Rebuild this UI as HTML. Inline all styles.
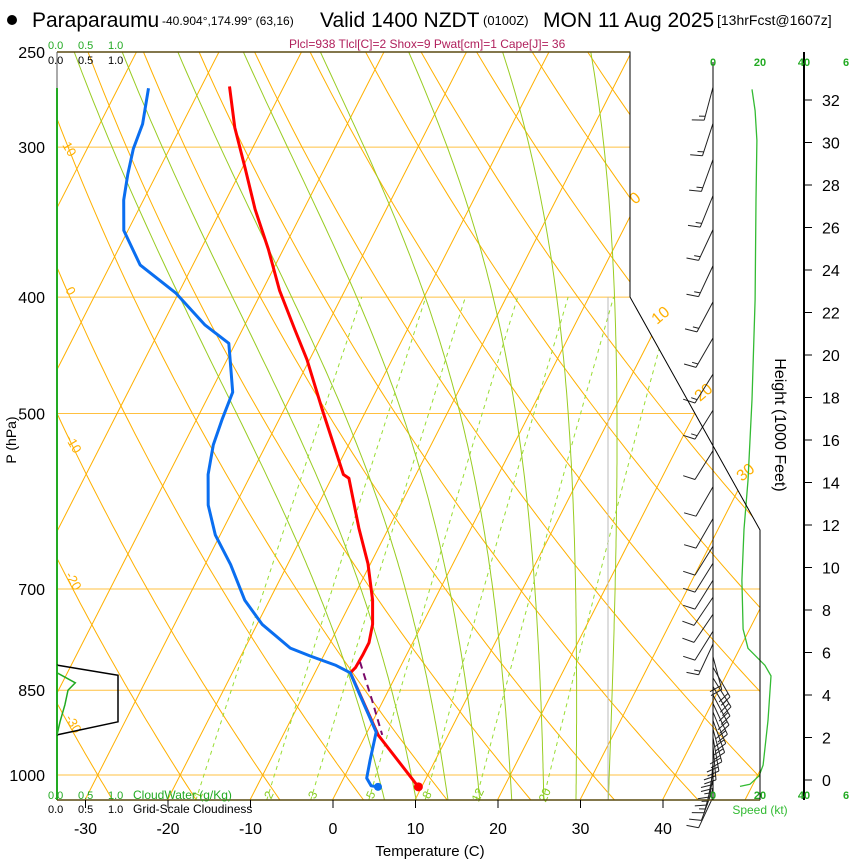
<!DOCTYPE html>
<html><head><meta charset="utf-8">
<style>
html,body{margin:0;padding:0;background:#fff;}
svg{display:block;font-family:"Liberation Sans",Arial,sans-serif;}
</style></head>
<body>
<svg id="chart" width="850" height="860" viewBox="0 0 850 860" xmlns="http://www.w3.org/2000/svg">
<defs>
<clipPath id="mainClip"><polygon points="57,52 630,52 630,297 760,530 760,800 57,800"/></clipPath>
</defs>
<rect width="850" height="860" fill="#fff"/>
<g id="title">
<circle cx="12" cy="20" r="5" fill="#000"/>
<text x="32" y="27" font-size="21">Paraparaumu</text>
<text x="162" y="25" font-size="12">-40.904°,174.99° (63,16)</text>
<text x="320" y="27" font-size="21">Valid 1400 NZDT</text>
<text x="483" y="25" font-size="13">(0100Z)</text>
<text x="543" y="27" font-size="21">MON 11 Aug 2025</text>
<text x="717" y="25" font-size="14">[13hrFcst@1607z]</text>
</g>
<text x="289" y="48" font-size="12" fill="#b0205c">Plcl=938 Tlcl[C]=2 Shox=9 Pwat[cm]=1 Cape[J]= 36</text>
<g id="grid" clip-path="url(#mainClip)"></g>
<g id="plot"></g>
<g id="frame"></g>
<g id="labels" font-size="15"></g>
</svg>
<script>
// ---- data ----
const pLevels = [250,300,400,500,700,850,1000];
const tTicks = [-30,-20,-10,0,10,20,30,40];
const hTicks = [0,2,4,6,8,10,12,14,16,18,20,22,24,26,28,30,32];
const thetaLines = [-40,-30,-20,-10,0,10,20,30,40,50,60,70,80,90,100,110];
const isoLines = [-120,-110,-100,-90,-80,-70,-60,-50,-40,-30,-20,-10,0,10,20,30,40,50];
const moistLines = [4,8,12,16,20,24,28,32];
const mixLines = [1,2,3,5,8,12,20];
const tempP = [1023,926,822,814,795,776,749,715,694,667,623,566,562,497,451,426,395,365,338,312,289,267];
const tempT = [9.6,1.5,-5.7,-5.4,-5.3,-5.3,-6.0,-7.5,-8.7,-10.3,-13.6,-17.9,-18.8,-25.3,-30.3,-33.6,-37.9,-41.8,-45.9,-49.7,-53.4,-56.6];
const dewP = [1021,1006,972,921,866,822,810,796,784,749,715,668,631,596,562,531,506,480,455,437,422,397,376,352,332,316,301,287,268];
const dewT = [3.8,2.8,2.1,1.1,-2.6,-5.7,-8.0,-11.6,-14.5,-19.4,-23.0,-26.9,-30.6,-33.3,-35.2,-36.4,-36.9,-37.3,-39.3,-40.8,-44.8,-50.3,-56.4,-60.5,-62.4,-63.5,-64.4,-64.8,-66.3];
const sfcP = 1023, sfcT = 9.6, sfcTd = 4.7;
const parcelP = [805,866,926];
const parcelT = [-5.2,-1.4,2.0];
const spdH = [32.5,31.5,30.1,27.3,22.6,17.9,14.1,11.8,9.4,7.1,6.2,5.4,4.9,2.8,0.7,0.2,-0.2,-0.3];
const spdV = [16.6,17.9,18.7,18.3,17.9,16.6,14.9,13.2,12.3,12.8,14.9,22.1,24.7,23.4,21.3,19.6,15.7,11.5];
const barbH = [32.6,30.9,29.2,27.5,25.9,24.2,22.5,20.8,19.1,17.4,15.5,13.8,12.3,11.0,10.2,9.4,8.6,7.8,7.0,6.4,5.8,5.3,4.8,4.4,4.0,3.6,3.2,2.8,2.4,2.0,1.6,1.2,0.8,0.4,0.0,-0.4,-0.8];
const barbDir = [195,198,200,202,205,205,208,210,212,212,212,210,210,212,212,212,214,214,212,205,165,150,148,150,152,155,158,160,165,170,175,180,185,190,195,200,205];
const barbSpd = [17,18,18,18,18,18,17,17,16,15,14,14,13,12,12,12,13,13,13,15,20,23,25,24,23,23,22,22,21,21,20,20,19,18,16,14,12];
const cloudP = [810,826,903,926];
const cloudFrac = [0,1.0,1.0,0];
const cwP = [810,822,838,850,874,903,926];
const cwV = [0,0,0.3,0.18,0.13,0.05,0];

// ---- axes functions ----
const NS = "http://www.w3.org/2000/svg";
const yP = p => 775 + 521.5*Math.log(p/1000);
const xT = (T,p) => 333 + 8.25*T + 0.51*(799 - yP(p));
const yH = h => 780 - 21.25*h;
const xS = s => 713 + 2.35*s;
const xC = v => 57 + 61*v;
function mk(tag, attrs, parent){const e=document.createElementNS(NS,tag);for(const k in attrs)e.setAttribute(k,attrs[k]);parent.appendChild(e);return e;}
const grid=document.getElementById('grid'), plot=document.getElementById('plot'), frame=document.getElementById('frame'), labels=document.getElementById('labels');
function pathFrom(pts){return pts.map((q,i)=>(i?'L':'M')+q[0].toFixed(1)+','+q[1].toFixed(1)).join(' ');}

pLevels.forEach(p=>{
  const l=mk('line',{x1:57,x2:760,y1:yP(p),y2:yP(p),stroke:'#ffc040','stroke-width':1},grid);
  
  
});
isoLines.forEach(T=>{
  const l=mk('line',{x1:xT(T,1060),y1:yP(1060),x2:xT(T,240),y2:yP(240),stroke:'#ffb000','stroke-width':1},grid);
  
  
});
thetaLines.forEach(th=>{
  const pts=[];for(let p=1060;p>=240;p-=10){pts.push([xT((th+273.15)*Math.pow(p/1000,0.2857)-273.15,p),yP(p)]);}
  const l=mk('path',{d:pathFrom(pts),fill:'none',stroke:'#ffb000','stroke-width':1},grid);
  
  
});
function es(Tc){return 6.112*Math.exp(17.67*Tc/(Tc+243.5));}
function moist(tw){
  const res=[];
  const step=(Tk,p,dl)=>{const e=es(Tk-273.15);const rs=0.622*e/(p-e);const dT=(287*Tk+2.5e6*rs)/(1004+2.5e6*2.5e6*rs*0.622/(287*Tk*Tk));return Tk+dT*dl;};
  let Tk=tw+273.15,p=1000;
  const down=[];while(p<1060){const np=p+5;Tk=step(Tk,p,Math.log(np/p));p=np;down.push([xT(Tk-273.15,p),yP(p)]);}
  Tk=tw+273.15;p=1000;res.push([xT(tw,1000),yP(1000)]);
  while(p>240){const np=p-5;Tk=step(Tk,p,Math.log(np/p));p=np;res.push([xT(Tk-273.15,p),yP(p)]);}
  return down.reverse().concat(res);
}
moistLines.forEach(tw=>{
  const l=mk('path',{d:pathFrom(moist(tw)),fill:'none',stroke:'#99cc22','stroke-width':1},grid);
  
  
});
function tdFromW(w,p){const e=w*p/(622+w);const L=Math.log(e/6.112);return 243.5*L/(17.67-L);}
mixLines.forEach(w=>{
  const pts=[];for(let p=1050;p>=400;p-=10)pts.push([xT(tdFromW(w,p),p),yP(p)]);
  const l=mk('path',{d:pathFrom(pts),fill:'none',stroke:'#99dd33','stroke-width':1,'stroke-dasharray':'4,4'},grid);
  
  
  const t=mk('text',{x:xT(tdFromW(w,1035),1035),y:yP(1035)+6,'font-size':12,fill:'#88cc22','text-anchor':'middle',transform:`rotate(-65 ${xT(tdFromW(w,1035),1035)} ${yP(1035)+2})`},plot);
  t.textContent=w;
  
  
});
mk('line',{x1:608,y1:297,x2:608,y2:800,stroke:'#bbbbbb','stroke-width':1},grid);

[[10,62,145],[0,65,290],[-10,65,438],[-20,65,575],[-30,65,718]].forEach(a=>{
  const t=mk('text',{x:a[1],y:a[2],'font-size':13,fill:'#ffb000',transform:`rotate(60 ${a[1]} ${a[2]})`},plot);
  t.textContent=a[0];
  
  
});
[[0,635,205],[10,657,325],[20,700,402],[30,742,482]].forEach(a=>{
  const t=mk('text',{x:a[1],y:a[2],'font-size':16,fill:'#ffb000',transform:`rotate(-40 ${a[1]} ${a[2]})`},plot);
  t.textContent=a[0];
  
  
});

mk('line',{x1:57,y1:88,x2:57,y2:800,stroke:'#22aa22','stroke-width':2},plot);
const cloudPts=cloudP.map((p,i)=>[xC(cloudFrac[i]),yP(p)]);
const cl=mk('path',{d:pathFrom(cloudPts),fill:'none',stroke:'#000','stroke-width':1.5},plot);


const cw=mk('path',{d:pathFrom(cwP.map((p,i)=>[xC(cwV[i]),yP(p)])),fill:'none',stroke:'#22aa22','stroke-width':1.5},plot);



const tl=mk('path',{d:pathFrom(tempP.map((p,i)=>[xT(tempT[i],p),yP(p)])),fill:'none',stroke:'#ff0000','stroke-width':3,'stroke-linejoin':'round'},plot);


const pl=mk('path',{d:pathFrom(parcelP.map((p,i)=>[xT(parcelT[i],p),yP(p)])),fill:'none',stroke:'#7a0a6a','stroke-width':2,'stroke-dasharray':'7,5'},plot);


const dewPts=[[xT(sfcTd,sfcP),yP(sfcP)]].concat(dewP.map((p,i)=>[xT(dewT[i],p),yP(p)]));
const dl=mk('path',{d:pathFrom(dewPts),fill:'none',stroke:'#0a6ef0','stroke-width':3,'stroke-linejoin':'round'},plot);


const d1=mk('circle',{cx:xT(sfcTd,sfcP),cy:yP(sfcP),r:4,fill:'#0a6ef0'},plot);


const d2=mk('circle',{cx:xT(sfcT,sfcP),cy:yP(sfcP),r:4.5,fill:'#ff0000'},plot);



const sp=mk('path',{d:pathFrom(spdH.map((h,i)=>[xS(spdV[i]),yH(h)])),fill:'none',stroke:'#33bb33','stroke-width':1.3},plot);



barbH.forEach((h,i)=>{
  const x0=713,y0=yH(h),a=barbDir[i]*Math.PI/180,L=34;
  const dx=Math.sin(a),dy=-Math.cos(a);
  const x1=x0+dx*L,y1=y0+dy*L;
  let d=`M${x0},${y0} L${x1.toFixed(1)},${y1.toFixed(1)}`;
  const px=-dy,py=dx;
  let s=barbSpd[i],pos=0;
  const full=Math.floor(s/10),half=(s%10)>=5?1:0;
  for(let k=0;k<full;k++){const bx=x1-dx*pos,by=y1-dy*pos;d+=` M${bx.toFixed(1)},${by.toFixed(1)} l${(px*12+dx*3).toFixed(1)},${(py*12+dy*3).toFixed(1)}`;pos+=4;}
  if(half){if(!full)pos=4;const bx=x1-dx*pos,by=y1-dy*pos;d+=` M${bx.toFixed(1)},${by.toFixed(1)} l${(px*6+dx*1.5).toFixed(1)},${(py*6+dy*1.5).toFixed(1)}`;}
  const b=mk('path',{d:d,fill:'none',stroke:'#222','stroke-width':1},plot);
  
  
});

mk('polyline',{points:'57,52 630,52 630,297 760,530 760,800',fill:'none',stroke:'#000','stroke-width':1},frame);
mk('line',{x1:57,y1:52,x2:630,y2:52,stroke:'#5a4a10','stroke-width':1.5},frame);
mk('line',{x1:57,y1:800,x2:760,y2:800,stroke:'#5a4a10','stroke-width':1.5},frame);
mk('line',{x1:57,y1:52,x2:57,y2:88,stroke:'#555','stroke-width':1},frame);
mk('line',{x1:713,y1:62,x2:713,y2:800,stroke:'#000','stroke-width':1},frame);
mk('line',{x1:804,y1:52,x2:804,y2:800,stroke:'#000','stroke-width':2},frame);

pLevels.forEach(p=>{
  const t=mk('text',{x:45,y:yP(p)+6,'text-anchor':'end','font-size':16},labels);
  t.textContent=p;
  
  
});
tTicks.forEach(T=>{
  const x=333+8.25*T;
  mk('line',{x1:x,y1:800,x2:x,y2:808,stroke:'#000'},labels);
  const t=mk('text',{x:x,y:834,'text-anchor':'middle','font-size':16},labels);
  t.textContent=T;
  
  
});
hTicks.forEach(h=>{
  mk('line',{x1:804,y1:yH(h),x2:812,y2:yH(h),stroke:'#000'},labels);
  const t=mk('text',{x:822,y:yH(h)+6,'font-size':16},labels);
  t.textContent=h;
  
  
});
</script>
<script>
(function(){
const svg=document.getElementById('chart');
const NS="http://www.w3.org/2000/svg";
const items=[
 ['p-axis-title','P (hPa)',16,440,14,'#000',-90,'middle'],
 ['x-axis-title','Temperature (C)',430,856,15,'#000',0,'middle'],
 ['height-axis-title','Height (1000 Feet)',775,425,16,'#000',90,'middle'],
 ['cloud-scale-top-0','0.0',48,49,11,'#22aa22',0,'start'],
 ['cloud-scale-top-05','0.5',78,49,11,'#22aa22',0,'start'],
 ['cloud-scale-top-1','1.0',108,49,11,'#22aa22',0,'start'],
 ['cloud-scale-top-0b','0.0',48,64,11,'#000',0,'start'],
 ['cloud-scale-top-05b','0.5',78,64,11,'#000',0,'start'],
 ['cloud-scale-top-1b','1.0',108,64,11,'#000',0,'start'],
 ['cloud-scale-bot-0','0.0',48,799,11,'#22aa22',0,'start'],
 ['cloud-scale-bot-05','0.5',78,799,11,'#22aa22',0,'start'],
 ['cloud-scale-bot-1','1.0',108,799,11,'#22aa22',0,'start'],
 ['cloudwater-title','CloudWater (g/Kg)',133,799,12,'#22aa22',0,'start'],
 ['cloud-scale-bot-0b','0.0',48,813,11,'#000',0,'start'],
 ['cloud-scale-bot-05b','0.5',78,813,11,'#000',0,'start'],
 ['cloud-scale-bot-1b','1.0',108,813,11,'#000',0,'start'],
 ['cloudiness-title','Grid-Scale Cloudiness',133,813,12,'#000',0,'start'],
 ['speed-top-0','0',713,66,11,'#22aa22',0,'middle'],
 ['speed-top-20','20',760,66,11,'#22aa22',0,'middle'],
 ['speed-top-40','40',804,66,11,'#22aa22',0,'middle'],
 ['speed-top-60','6',846,66,11,'#22aa22',0,'middle'],
 ['speed-bot-0','0',713,799,11,'#22aa22',0,'middle'],
 ['speed-bot-20','20',760,799,11,'#22aa22',0,'middle'],
 ['speed-bot-40','40',804,799,11,'#22aa22',0,'middle'],
 ['speed-bot-60','6',846,799,11,'#22aa22',0,'middle'],
 ['speed-title','Speed (kt)',760,814,12,'#33bb33',0,'middle']
];
items.forEach(a=>{
  const t=document.createElementNS(NS,'text');
  t.setAttribute('x',a[2]);t.setAttribute('y',a[3]);t.setAttribute('font-size',a[4]);t.setAttribute('fill',a[5]);
  t.setAttribute('text-anchor',a[7]);
  if(a[0].startsWith('speed-top')||a[0].startsWith('speed-bot'))t.setAttribute('font-weight','bold');
  if(a[6])t.setAttribute('transform',`rotate(${a[6]} ${a[2]} ${a[3]})`);
  t.textContent=a[1];
  
  
  svg.appendChild(t);
});
})();
</script>
</body></html>
